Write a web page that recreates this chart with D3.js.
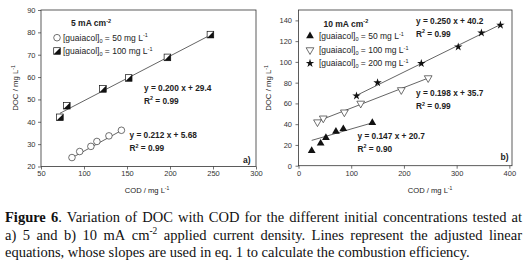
<!DOCTYPE html>
<html>
<head>
<meta charset="utf-8">
<script src="https://cdn.jsdelivr.net/npm/d3@7"></script>
<style>
  body { margin: 0; background: #fff; }
  svg { display: block; }
</style>
</head>
<body>
<script>
// page size
var w = 527;
var h = 260;

// panel a) 5 mA cm-2
var aCod50 = [86, 95, 108, 115, 129, 143.5];
var aDoc50 = [24, 26.7, 29, 31.2, 33.7, 36.2];
var aCod100 = [72, 80, 122, 152, 197, 247];
var aDoc100 = [42, 47.2, 54.7, 59.6, 68.8, 79];

// panel b) 10 mA cm-2
var bCod50 = [25, 42, 52, 71, 85, 140];
var bDoc50 = [14.5, 21.5, 27, 33, 35.5, 41.3];
var bCod100 = [36, 47, 87, 118, 195, 246];
var bDoc100 = [42, 45.7, 51.5, 60, 73, 84.5];
var bCod200 = [110, 150, 233, 303, 347, 383];
var bDoc200 = [67.3, 80, 98.5, 114.5, 128, 135.5];

// fitted lines: [slope, intercept]
var aFit50 = [0.212, 5.68];
var aFit100 = [0.200, 29.4];
var bFit50 = [0.147, 20.7];
var bFit100 = [0.198, 35.7];
var bFit200 = [0.250, 40.2];

// tick labels
var aXTicks = [50, 100, 150, 200, 250, 300];
var aYTicks = [20, 30, 40, 50, 60, 70, 80, 90];
var bXTicks = [0, 100, 200, 300, 400];
var bYTicks = [0, 20, 40, 60, 80, 100, 120, 140];

var svg = d3.select("body").append("svg")
    .attr("width", w)
    .attr("height", h);

var sans = "'Liberation Sans', Arial, sans-serif";
var ink = "#222";

//scales
var aX = d3.scaleLinear().domain([50, 300]).range([41, 256]);
var aY = d3.scaleLinear().domain([20, 90]).range([166.5, 10]);
var bX = d3.scaleLinear().domain([0, 405]).range([298.5, 512]);
var bY = d3.scaleLinear().domain([0, 150]).range([165.7, 10]);

function frame(x, y, pad) {
    var x0 = x.range()[0], x1 = x.range()[1];
    var y0 = y.range()[1], y1 = y.range()[0];
    var gx = svg.append("g").attr("transform", "translate(0," + y1 + ")")
        .call(d3.axisBottom(x).tickValues(pad.xt).tickSize(3).tickPadding(1.5));
    var gy = svg.append("g").attr("transform", "translate(" + x0 + ",0)")
        .call(d3.axisLeft(y).tickValues(pad.yt).tickSize(3).tickPadding(pad.yp));
    [gx, gy].forEach(function(g) {
        g.select(".domain").remove();
        g.selectAll("line").attr("stroke", "#333").attr("stroke-width", 0.7);
        g.selectAll("text").attr("font-family", sans).attr("font-size", 7.5).attr("fill", "#333");
    });
    svg.append("rect")
        .attr("x", x0).attr("y", y0)
        .attr("width", x1 - x0).attr("height", y1 - y0)
        .attr("fill", "none").attr("stroke", "#333").attr("stroke-width", 0.8);
}

frame(aX, aY, { xt: aXTicks, yt: aYTicks, yp: 2.5 });
frame(bX, bY, { xt: bXTicks, yt: bYTicks, yp: 3.5 });

// text with optional super / subscript parts: [text, "sup"|"sub"|undefined]
function label(x, y, parts, size, weight, anchor, rot) {
    var t = svg.append("text")
        .attr("font-family", sans)
        .attr("font-size", size)
        .attr("font-weight", weight || "normal")
        .attr("fill", ink)
        .attr("text-anchor", anchor || "start")
        .attr("transform", "translate(" + x + "," + y + ")" + (rot ? " rotate(-90)" : ""));
    var shift = 0;
    parts.forEach(function(p) {
        var want = p[1] == "sup" ? -size * 0.4 : p[1] == "sub" ? size * 0.25 : 0;
        t.append("tspan")
            .attr("dy", want - shift)
            .attr("font-size", p[1] ? size * 0.65 : size)
            .text(p[0]);
        shift = want;
    });
    return t;
}

// regression line over the data range
function fitLine(x, y, cods, fit) {
    var ext = d3.extent(cods);
    svg.append("line")
        .attr("x1", x(ext[0])).attr("y1", y(fit[0] * ext[0] + fit[1]))
        .attr("x2", x(ext[1])).attr("y2", y(fit[0] * ext[1] + fit[1]))
        .attr("stroke", ink).attr("stroke-width", 0.7);
}

fitLine(aX, aY, aCod50, aFit50);
fitLine(aX, aY, aCod100, aFit100);
fitLine(bX, bY, bCod50, bFit50);
fitLine(bX, bY, bCod100, bFit100);
fitLine(bX, bY, bCod200, bFit200);

//markers
function marker(g, kind) {
    if (kind == "circle") {
        g.append("circle").attr("r", 3.3).attr("fill", "#fff").attr("stroke", "#333").attr("stroke-width", 0.7);
    } else if (kind == "half") {
        g.append("rect").attr("x", -3.3).attr("y", -3.3).attr("width", 6.6).attr("height", 6.6)
            .attr("fill", "#fff").attr("stroke", "#111").attr("stroke-width", 0.7);
        g.append("path").attr("d", "M-3.3,3.3L3.3,3.3L3.3,-3.3Z").attr("fill", "#111");
    } else if (kind == "up") {
        g.append("path").attr("d", d3.symbol(d3.symbolTriangle, 26)()).attr("fill", "#111");
    } else if (kind == "down") {
        g.append("path").attr("d", d3.symbol(d3.symbolTriangle, 26)())
            .attr("transform", "rotate(180)")
            .attr("fill", "#fff").attr("stroke", "#333").attr("stroke-width", 0.7);
    } else if (kind == "star") {
        g.append("path").attr("d", d3.symbol(d3.symbolStar, 22)()).attr("fill", "#111");
    }
}

function points(x, y, cods, docs, kind) {
    svg.selectAll(null)
        .data(d3.zip(cods, docs))
        .enter()
        .append("g")
        .attr("transform", function(d) { return "translate(" + x(d[0]) + "," + y(d[1]) + ")"; })
        .each(function() { marker(d3.select(this), kind); });
}

points(aX, aY, aCod50, aDoc50, "circle");
points(aX, aY, aCod100, aDoc100, "half");
points(bX, bY, bCod50, bDoc50, "up");
points(bX, bY, bCod100, bDoc100, "down");
points(bX, bY, bCod200, bDoc200, "star");

// legends
function legendRow(mx, tx, y, kind, conc) {
    marker(svg.append("g").attr("transform", "translate(" + mx + "," + y + ")"), kind);
    label(tx, y + 3, [["[guaiacol]"], ["0", "sub"], [" = " + conc + " mg L"], ["-1", "sup"]], 8.5);
}

label(71, 26, [["5 mA cm"], ["-2", "sup"]], 8.5, "bold");
legendRow(57, 63, 37.7, "circle", 50);
legendRow(57, 63, 51, "half", 100);

label(323.5, 26.5, [["10 mA cm"], ["-2", "sup"]], 8.5, "bold");
legendRow(310, 319, 36, "up", 50);
legendRow(310, 319, 50, "down", 100);
legendRow(310, 319, 63.3, "star", 200);

// equations
function eq(x, y, fit, r2) {
    var s = fit[1] < 10 ? fit[1].toFixed(2) : fit[1].toFixed(1);
    label(x, y, [["y = " + fit[0].toFixed(3) + " x + " + s]], 8.3, "bold");
    label(x, y + 13, [["R"], ["2", "sup"], [" = " + r2]], 8.3, "bold");
}

eq(144, 90.5, aFit100, "0.99");
eq(129.5, 138, aFit50, "0.99");
eq(416, 23.5, bFit200, "0.99");
eq(416, 96, bFit100, "0.99");
eq(357.5, 138.5, bFit50, "0.90");

label(250.5, 162.5, [["a)"]], 8.5, "bold", "end");
label(508.5, 160, [["b)"]], 8.5, "bold", "end");

// axis titles
label(147, 193, [["COD / mg L"], ["-1", "sup"]], 7.6, "normal", "middle");
label(430, 193, [["COD / mg L"], ["-1", "sup"]], 7.6, "normal", "middle");
label(17.8, 88, [["DOC / mg L"], ["-1", "sup"]], 7.8, "normal", "middle", true);
label(271, 88, [["DOC / mg L"], ["-1", "sup"]], 7.8, "normal", "middle", true);

// caption, justified like the source text
var capSize = 14.5;
var capLeft = 5, capRight = 522;
var captionLines = [
    [[["Figure", "b"]], [["6", "b"], ["."]], [["Variation"]], [["of"]], [["DOC"]], [["with"]], [["COD"]], [["for"]],
     [["the"]], [["different"]], [["initial"]], [["concentrations"]], [["tested"]], [["at"]]],
    [[["a)"]], [["5"]], [["and"]], [["b)"]], [["10"]], [["mA"]], [["cm"], ["-2", "sup"]], [["applied"]], [["current"]],
     [["density."]], [["Lines"]], [["represent"]], [["the"]], [["adjusted"]], [["linear"]]],
    [[["equations,"]], [["whose"]], [["slopes"]], [["are"]], [["used"]], [["in"]], [["eq."]], [["1"]], [["to"]],
     [["calculate"]], [["the"]], [["combustion"]], [["efficiency."]]]
];
var capY = [221.7, 239.5, 257];

captionLines.forEach(function(words, li) {
    var nodes = words.map(function(parts) {
        var t = svg.append("text")
            .attr("font-family", "'Liberation Serif', 'Times New Roman', serif")
            .attr("font-size", capSize)
            .attr("fill", "#111")
            .attr("y", capY[li]);
        var shift = 0;
        parts.forEach(function(p) {
            var want = p[1] == "sup" ? -capSize * 0.38 : 0;
            t.append("tspan")
                .attr("dy", want - shift)
                .attr("font-weight", p[1] == "b" ? "bold" : "normal")
                .attr("font-size", p[1] == "sup" ? capSize * 0.65 : capSize)
                .text(p[0]);
            shift = want;
        });
        return t;
    });
    var widths = nodes.map(function(t) { return t.node().getComputedTextLength(); });
    var total = d3.sum(widths);
    var gap = li < captionLines.length - 1 ? (capRight - capLeft - total) / (words.length - 1) : capSize * 0.25;
    var x = capLeft;
    nodes.forEach(function(t, i) {
        t.attr("x", x);
        x += widths[i] + gap;
    });
});
</script>
</body>
</html>
